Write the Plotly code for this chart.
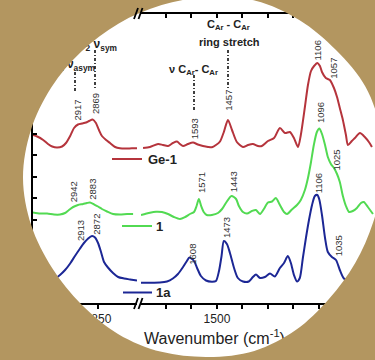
import base64
import math
import plotly.graph_objects as go

# ---------------- data ----------------
series_names = ["Ge-1", "1", "1a"]

# C-H stretching window (left panel), wavenumber in cm-1 and absorbance (a.u., offset)
wn_ch_ge1 = [3067, 3053, 3033, 3017, 3003, 2987, 2970, 2957, 2943, 2930, 2917, 2903, 2890,
             2880, 2868, 2857, 2847, 2837, 2823, 2810, 2793, 2777, 2757, 2737, 2720]
ab_ch_ge1 = [1.69, 1.675, 1.64, 1.60, 1.575, 1.565, 1.575, 1.61, 1.68, 1.76, 1.795, 1.805, 1.815,
             1.83, 1.845, 1.81, 1.74, 1.68, 1.64, 1.61, 1.57, 1.557, 1.555, 1.557, 1.557]

wn_ch_1 = [3067, 3043, 3020, 2997, 2977, 2960, 2947, 2933, 2917, 2900, 2887, 2877, 2863, 2850,
           2837, 2820, 2800, 2777, 2753, 2733]
ab_ch_1 = [0.915, 0.905, 0.905, 0.895, 0.895, 0.91, 0.94, 0.97, 0.99, 1.00, 1.01, 1.015, 0.995,
           0.975, 0.95, 0.925, 0.90, 0.895, 0.90, 0.90]

wn_ch_1a = [3010, 2993, 2977, 2960, 2943, 2927, 2910, 2897, 2883, 2870, 2860, 2850, 2840, 2830,
            2817, 2800, 2783, 2763, 2743, 2720]
ab_ch_1a = [0.23, 0.255, 0.29, 0.34, 0.405, 0.48, 0.555, 0.61, 0.655, 0.68, 0.665, 0.61, 0.52,
            0.42, 0.365, 0.31, 0.27, 0.255, 0.245, 0.235]

# fingerprint window (right panel)
wn_fp_ge1 = [1790, 1763, 1731, 1712, 1692, 1673, 1657, 1645, 1633, 1614, 1594, 1575, 1555, 1535,
             1520, 1504, 1488, 1473, 1457, 1441, 1422, 1398, 1378, 1359, 1339, 1324, 1300, 1276,
             1253, 1233, 1214, 1198, 1182, 1171, 1155, 1143, 1131, 1119, 1106, 1096, 1088, 1073,
             1057, 1041, 1029, 1018, 1006, 994, 986, 971, 959, 939, 920, 904, 892]
ab_fp_ge1 = [1.56, 1.57, 1.60, 1.59, 1.58, 1.61, 1.625, 1.60, 1.58, 1.60, 1.615, 1.595, 1.58, 1.57,
             1.567, 1.59, 1.625, 1.72, 1.84, 1.74, 1.62, 1.57, 1.59, 1.60, 1.58, 1.58, 1.63, 1.66,
             1.76, 1.71, 1.72, 1.66, 1.57, 1.69, 1.97, 2.19, 2.33, 2.38, 2.41, 2.38, 2.32, 2.26,
             2.24, 2.16, 2.07, 1.96, 1.84, 1.69, 1.59, 1.63, 1.66, 1.71, 1.67, 1.62, 1.57]

wn_fp_1 = [1798, 1782, 1763, 1739, 1716, 1692, 1669, 1645, 1625, 1606, 1590, 1580, 1571, 1562,
           1552, 1540, 1520, 1496, 1480, 1465, 1443, 1425, 1414, 1398, 1382, 1363, 1347, 1331,
           1316, 1300, 1284, 1269, 1253, 1237, 1225, 1206, 1186, 1171, 1155, 1143, 1131, 1120,
           1108, 1098, 1088, 1076, 1065, 1053, 1041, 1029, 1018, 1006, 994, 982, 967, 951, 935,
           924, 908, 888]
ab_fp_1 = [0.89, 0.90, 0.913, 0.923, 0.92, 0.90, 0.87, 0.85, 0.87, 0.90, 0.92, 0.98, 1.05, 0.98,
           0.92, 0.89, 0.89, 0.91, 0.95, 1.01, 1.08, 1.05, 0.98, 0.92, 0.905, 0.93, 0.94, 0.90,
           0.95, 1.015, 1.025, 1.06, 0.99, 0.92, 0.90, 0.945, 0.99, 1.04, 1.14, 1.26, 1.42, 1.59,
           1.72, 1.755, 1.70, 1.59, 1.47, 1.40, 1.36, 1.30, 1.22, 1.08, 0.98, 0.92, 0.93, 0.96,
           1.01, 1.02, 0.97, 0.90]

wn_fp_1a = [1798, 1763, 1724, 1696, 1673, 1653, 1633, 1618, 1608, 1590, 1578, 1563, 1543, 1520,
            1504, 1492, 1482, 1473, 1461, 1449, 1433, 1418, 1398, 1375, 1359, 1347, 1331, 1312,
            1292, 1273, 1253, 1237, 1222, 1210, 1198, 1186, 1175, 1163, 1151, 1139, 1127, 1116,
            1106, 1098, 1088, 1076, 1065, 1049, 1033, 1018, 1002, 978, 947]
ab_fp_1a = [0.213, 0.213, 0.215, 0.225, 0.255, 0.30, 0.37, 0.43, 0.465, 0.43, 0.36, 0.28, 0.235,
            0.223, 0.23, 0.33, 0.48, 0.63, 0.60, 0.51, 0.36, 0.26, 0.225, 0.225, 0.27, 0.295,
            0.26, 0.27, 0.305, 0.275, 0.36, 0.41, 0.48, 0.41, 0.29, 0.225, 0.26, 0.46, 0.66,
            0.84, 0.99, 1.08, 1.09, 1.04, 0.89, 0.66, 0.52, 0.47, 0.44, 0.34, 0.255, 0.22, 0.20]

peak_labels_ge1 = ["2917", "2869", "1593", "1457", "1106", "1057"]
peak_labels_1 = ["2942", "2883", "1571", "1443", "1096", "1025"]
peak_labels_1a = ["2913", "2872", "1608", "1473", "1106", "1035"]

x_ticks_ch = [3050, 2850]
x_ticklabels_ch = ["", "2850"]
x_ticks_fp = [1700, 1600, 1500, 1400, 1300, 1200, 1100, 1000, 900]
x_ticklabels_fp = ["", "", "1500", "", "", "", "", "1000", ""]

# ---------------- styling / layout helpers ----------------
W, H = 375, 360
RED, GREEN, BLUE = "#b5343c", "#52da52", "#1c2795"
TAN = "#b39660"
FONT = "Liberation Sans, Arial, sans-serif"
TXT = "#222222"

def px(x):
    return x / W

def py(y):
    return 1 - y / H

CH_RANGE = [3067, 2720]
FP_RANGE = [1798, 880]
CH_PX = (33, 137)
FP_PX = (141, 375)
AXIS_Y_PX = 304      # bottom axis line (value 0)
TOP_Y_PX = 14        # top axis line
Y_PER_PX = 0.01

def wn_ch(x):
    return CH_RANGE[0] + (x - CH_PX[0]) * (CH_RANGE[1] - CH_RANGE[0]) / (CH_PX[1] - CH_PX[0])

def wn_fp(x):
    return FP_RANGE[0] + (x - FP_PX[0]) * (FP_RANGE[1] - FP_RANGE[0]) / (FP_PX[1] - FP_PX[0])

def absv(y):
    return (AXIS_Y_PX - y) * Y_PER_PX

Y_RANGE = [absv(H), absv(TOP_Y_PX)]

fig = go.Figure()

def add_curve(xs, ys, color, xa):
    fig.add_trace(go.Scatter(x=xs, y=ys, mode="lines", xaxis=xa, yaxis="y",
                             line=dict(color=color, width=2, shape="spline", smoothing=0.7),
                             hoverinfo="skip", showlegend=False))

add_curve(wn_ch_ge1, ab_ch_ge1, RED, "x")
add_curve(wn_ch_1, ab_ch_1, GREEN, "x")
add_curve(wn_ch_1a, ab_ch_1a, BLUE, "x")
add_curve(wn_fp_ge1, ab_fp_ge1, RED, "x2")
add_curve(wn_fp_1, ab_fp_1, GREEN, "x2")
add_curve(wn_fp_1a, ab_fp_1a, BLUE, "x2")
# empty traces so the top (mirror) axes exist
fig.add_trace(go.Scatter(x=[], y=[], xaxis="x3", yaxis="y", showlegend=False, hoverinfo="skip"))
fig.add_trace(go.Scatter(x=[], y=[], xaxis="x4", yaxis="y", showlegend=False, hoverinfo="skip"))

# texts that are clipped by the round frame (drawn under the mask)
def clipped_text(text, x, y, xa, pos, size, bold=False):
    fig.add_trace(go.Scatter(x=[x], y=[y], mode="text", text=[("<b>%s</b>" % text) if bold else text],
                             textposition=pos, xaxis=xa, yaxis="y", cliponaxis=False,
                             textfont=dict(size=size, color=TXT, family=FONT),
                             hoverinfo="skip", showlegend=False))

clipped_text("<sup>1</sup>/<sub>2</sub> ν<sub>sym</sub>", wn_ch(117), absv(45), "x", "middle left", 12, True)
clipped_text("<sup>1</sup>/<sub>2</sub> ν<sub>asym</sub>", wn_ch(95), absv(65), "x", "middle left", 12, True)
clipped_text("Wavenumber (cm<sup>-1</sup>)", wn_fp(144), absv(340), "x2", "middle right", 16)

axc = dict(showline=True, linewidth=2, linecolor="black", showgrid=False, zeroline=False,
           tickcolor="black", tickwidth=1.5, ticklen=4, fixedrange=True, automargin=False,
           tickfont=dict(size=12, color=TXT, family=FONT))

fig.update_layout(
    width=W, height=H, autosize=False, template="none",
    margin=dict(l=0, r=0, t=0, b=0, pad=0, autoexpand=False),
    paper_bgcolor="white", plot_bgcolor="white", showlegend=False,
    xaxis=dict(domain=[px(CH_PX[0]), px(CH_PX[1])], range=CH_RANGE, anchor="free",
               position=py(AXIS_Y_PX), ticks="outside",
               tickvals=x_ticks_ch, ticktext=x_ticklabels_ch, **axc),
    xaxis2=dict(domain=[px(FP_PX[0]), px(FP_PX[1])], range=FP_RANGE, anchor="free",
                position=py(AXIS_Y_PX), ticks="outside",
                tickvals=x_ticks_fp, ticktext=x_ticklabels_fp, **axc),
    xaxis3=dict(overlaying="x", side="top", range=CH_RANGE, anchor="y", ticks="inside",
                tickvals=x_ticks_ch, showticklabels=False, **axc),
    xaxis4=dict(overlaying="x2", side="top", range=FP_RANGE, anchor="y", ticks="inside",
                tickvals=x_ticks_fp, showticklabels=False, **axc),
    yaxis=dict(domain=[0, py(TOP_Y_PX)], range=Y_RANGE, anchor="x", ticks="inside",
               tick0=0.845, dtick=0.215, showticklabels=False, **axc),
)

shapes = []
def seg(x0, y0, x1, y1, color="black", width=2, dash="solid"):
    shapes.append(dict(type="line", xref="paper", yref="paper", x0=px(x0), y0=py(y0),
                       x1=px(x1), y1=py(y1), line=dict(color=color, width=width, dash=dash),
                       layer="above"))

# legend-like line keys
seg(112, 159, 142, 159, RED)
seg(122, 226, 152, 226, GREEN)
seg(123, 292.5, 152, 292.5, BLUE)
# dash-dot guide lines
DD = "3px,2px,1px,2px"
seg(75, 72, 75, 92, "black", 1.5, DD)
seg(95, 50, 95, 90, "black", 1.5, DD)
seg(194, 75, 194, 112, "black", 1.5, DD)
seg(228, 50, 228, 88, "black", 1.5, DD)
# axis break marks
for yy in (AXIS_Y_PX, TOP_Y_PX):
    seg(134, yy + 5, 138, yy - 6, "black", 1.8)
    seg(138.5, yy + 5, 142.5, yy - 6, "black", 1.8)
fig.update_layout(shapes=shapes)

# round frame mask: SVG overlay (tan page with a rounded window), radii in pixels
CX, CY = 208, 178
frame_deg = list(range(-180, 180, 15))
frame_r = [185, 183.5, 181, 179, 178.5, 179, 181, 183.5, 182.5, 181, 182, 179,
           175, 171, 170, 171, 175.5, 179, 179, 180, 180, 179, 180, 183]
frame = [(CX + r * math.cos(math.radians(a)), CY + r * math.sin(math.radians(a)))
         for a, r in zip(frame_deg, frame_r)]
n = len(frame)
d = "M-40,-40 H415 V400 H-40 Z M%.2f,%.2f" % frame[0]
for i in range(n):
    p0, p1, p2, p3 = frame[i - 1], frame[i], frame[(i + 1) % n], frame[(i + 2) % n]
    c1 = (p1[0] + (p2[0] - p0[0]) / 6, p1[1] + (p2[1] - p0[1]) / 6)
    c2 = (p2[0] - (p3[0] - p1[0]) / 6, p2[1] - (p3[1] - p1[1]) / 6)
    d += " C%.2f,%.2f %.2f,%.2f %.2f,%.2f" % (c1 + c2 + p2)
d += " Z"
svg = ('<svg xmlns="http://www.w3.org/2000/svg" width="%d" height="%d" viewBox="0 0 %d %d">'
       '<path fill="%s" fill-rule="evenodd" d="%s"/></svg>') % (W, H, W, H, TAN, d)
src = "data:image/svg+xml;base64," + base64.b64encode(svg.encode()).decode()
fig.add_layout_image(source=src, xref="paper", yref="paper", x=0, y=1, sizex=1, sizey=1,
                     xanchor="left", yanchor="top", sizing="stretch", layer="above")

# annotations
def ann(text, x, y, size=10, angle=0, xanchor="center", color=TXT):
    fig.add_annotation(x=px(x), y=py(y), xref="paper", yref="paper", text=text, showarrow=False,
                       textangle=angle, xanchor=xanchor, yanchor="middle",
                       font=dict(size=size, color=color, family=FONT))

ann("<b>%s</b>" % series_names[0], 146, 159, 13, xanchor="left")
ann("<b>%s</b>" % series_names[1], 154, 226, 13, xanchor="left")
ann("<b>%s</b>" % series_names[2], 154, 292, 13, xanchor="left")
ann("<b>C<sub>Ar</sub> - C<sub>Ar</sub></b>", 228, 25, 11)
ann("<b>ring stretch</b>", 229, 42, 11)
ann("<b>ν C<sub>Ar</sub>- C<sub>Ar</sub></b>", 193, 70, 11)

pos_ge1 = [(76.5, 110), (95.5, 103.5), (194.3, 129), (227.7, 100), (317.5, 51), (332.7, 68)]
pos_1 = [(73.3, 192), (91.7, 189), (201, 183), (233.3, 182), (320, 113), (335.5, 160)]
pos_1a = [(80, 231), (95.7, 224), (191.7, 254), (226, 228), (318.3, 183), (338.3, 246)]
for labels, poss in ((peak_labels_ge1, pos_ge1), (peak_labels_1, pos_1), (peak_labels_1a, pos_1a)):
    for t, (x, y) in zip(labels, poss):
        ann(t, x, y, 9.5, angle=-90, color="#333333")

fig.write_html("out.html", config={"displayModeBar": False})
